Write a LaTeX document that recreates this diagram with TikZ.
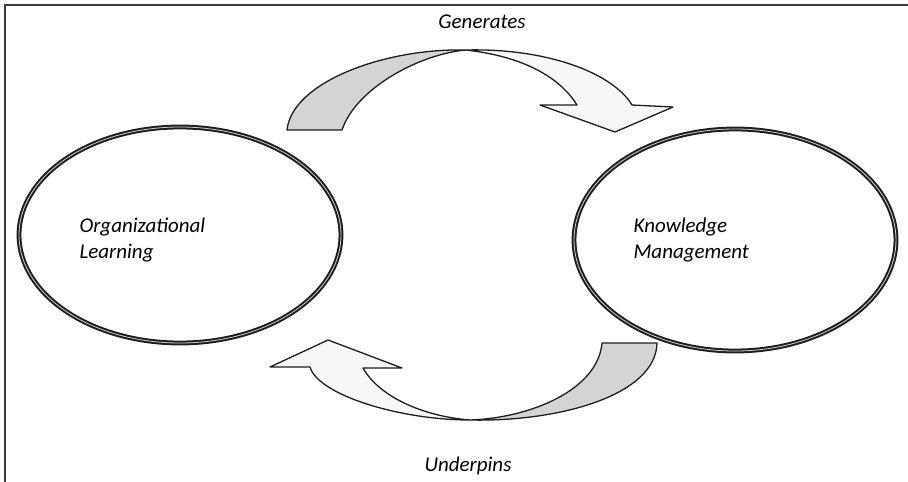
\documentclass[tikz,border=0pt]{standalone}
\usepackage{fontspec}
\setmainfont{Carlito}
\usepackage{tikz}
\usetikzlibrary{
  shapes.geometric,
  positioning
}
\definecolor{rim}{RGB}{30,30,30}
\definecolor{tailgray}{RGB}{212,212,212}
\definecolor{headwhite}{RGB}{247,247,247}
\definecolor{framegray}{RGB}{60,60,60}

\begin{document}
\begin{tikzpicture}[x=1pt, y=-1pt,
    every node/.style={font=\fontsize{21}{26}\selectfont\itshape},
    loop/.style={ellipse, draw=rim, line width=2pt, double=gray!40, double distance=0.8pt, inner sep=0pt, minimum width=322pt},
    band/.style={draw=rim, line width=1.3pt, line join=round}]
            \useasboundingbox (0,0) rectangle (908,482);

            % Frame
            \draw[framegray, line width=1.4pt] (5,482) -- (5,5) -- (908,5);

            % Ellipses
            \node[loop, minimum height=216pt] (ol) at (180,235) {};
            \node[loop, minimum height=222pt] (km) at (735,240) {};
            \node[anchor=west, align=left] (oltext) at (76,240) {Organizational\\Learning};
            \node[anchor=west, align=left] (kmtext) at (630,240) {Knowledge\\Management};

            % Generates arrow
            \coordinate (gtw) at (466,50);
            \draw[band, fill=tailgray] (287,130) .. controls (292,82) and (385,48) .. (gtw) .. controls (420,54) and (356,88) .. (342,130) -- cycle;
            \draw[band, fill=headwhite] (gtw) .. controls (545,48) and (612,72) .. (632,105) -- (673,107) -- (615,132) -- (540,105) -- (577,105) .. controls (555,70) and (510,55) .. (gtw) -- cycle;
            \node (gen) at (482,22) {Generates};

            % Underpins arrow
            \coordinate (btw) at (470,420);
            \draw[band, fill=tailgray] (657,343) .. controls (656,395) and (560,422) .. (btw) .. controls (530,418) and (598,390) .. (602,343) -- cycle;
            \draw[band, fill=headwhite] (btw) .. controls (400,420) and (318,395) .. (310,367) -- (270,367) -- (328,340) -- (402,368) -- (363,368) .. controls (378,395) and (420,416) .. (btw) -- cycle;
            \node (und) at (468,466) {Underpins};
        \end{tikzpicture}
\end{document}
